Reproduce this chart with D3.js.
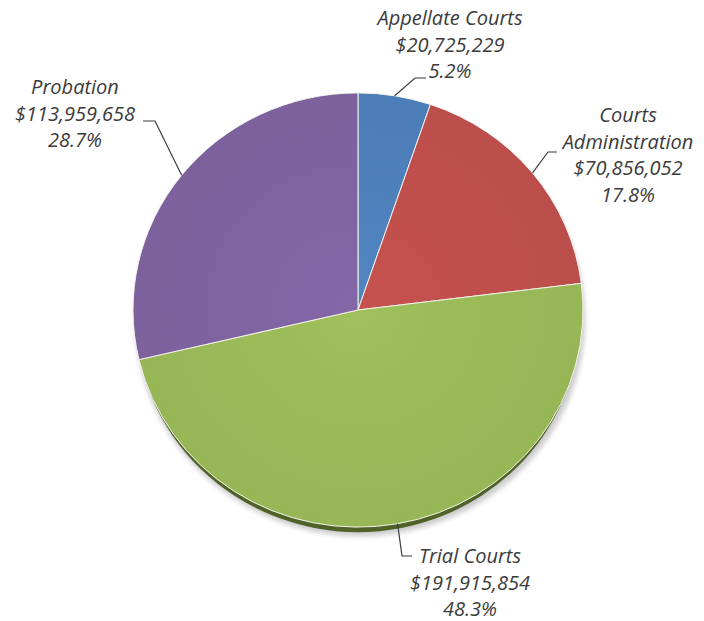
<!DOCTYPE html>
<html>
<head>
<meta charset="utf-8">
<title>Courts Budget</title>
<script src="https://d3js.org/d3.v7.min.js"></script>
<style>
  body { margin: 0; background: #FFFFFF; }
  svg { display: block; }
  .label { font-family: 'Open Sans', sans-serif; font-style: italic; font-size: 20px; fill: #3b3b3b; }
  .leader { fill: none; stroke: #3b3b3b; stroke-width: 1.2; }
</style>
</head>
<body>
<svg id="chart"></svg>
<script>
// data
const categories = ["Appellate Courts", "Courts Administration", "Trial Courts", "Probation"];
const amounts = [20725229, 70856052, 191915854, 113959658];
const colors = ["#4F81BD", "#C0504D", "#9BBB59", "#8064A2"];

const width = 704, height = 621;
const cx = 358, cy = 310, radius = 225, squash = 0.965;

// where each label block sits and how its leader line bends
const labelLayout = [
  { x: 450, y: 18, lines: ["Appellate Courts"], elbow: [415, 78], end: [426, 78] },
  { x: 628, y: 115, lines: ["Courts", "Administration"], elbow: [548, 152], end: [557, 152] },
  { x: 470, y: 556, lines: ["Trial Courts"], elbow: [402, 556], end: [412, 556] },
  { x: 75, y: 87, lines: ["Probation"], elbow: [155, 121], end: [143, 121] }
];
const lineHeight = 26.5;

const svg = d3.select("#chart").attr("width", width).attr("height", height);

const defs = svg.append("defs");
defs.append("filter").attr("id", "blur")
  .attr("x", "-10%").attr("y", "-10%").attr("width", "120%").attr("height", "120%")
  .append("feGaussianBlur").attr("stdDeviation", 2.5);

// light shading on each slice
colors.forEach((c, i) => {
  const g = defs.append("radialGradient").attr("id", "grad" + i)
    .attr("gradientUnits", "userSpaceOnUse")
    .attr("cx", 0).attr("cy", 0).attr("r", radius);
  g.append("stop").attr("offset", "0%").attr("stop-color", d3.color(c).brighter(0.08));
  g.append("stop").attr("offset", "100%").attr("stop-color", d3.color(c).darker(0.08));
});

const total = d3.sum(amounts);
const data = categories.map((name, i) => ({ name, value: amounts[i], i }));

const pie = d3.pie().sort(null).value(d => d.value);
const arcs = pie(data);
const arc = d3.arc().innerRadius(0).outerRadius(radius);

// soft shadow and dark rim under the pie
svg.append("ellipse")
  .attr("cx", cx + 2).attr("cy", cy + 9)
  .attr("rx", radius).attr("ry", radius * squash)
  .attr("fill", "#9a9a9a").attr("opacity", 0.5)
  .attr("filter", "url(#blur)");
svg.append("ellipse")
  .attr("cx", cx).attr("cy", cy + 5)
  .attr("rx", radius - 2).attr("ry", radius * squash)
  .attr("fill", "#4F6228");

const pieG = svg.append("g")
  .attr("transform", `translate(${cx},${cy}) scale(1,${squash})`);

pieG.selectAll("path.slice")
  .data(arcs)
  .join("path")
  .attr("class", "slice")
  .attr("d", arc)
  .attr("fill", d => `url(#grad${d.data.i})`)
  .attr("stroke", "#F4F4EC")
  .attr("stroke-width", 1);

// labels
const fmtMoney = d3.format("$,");
const fmtPct = d3.format(".1%");

arcs.forEach((a, i) => {
  const lay = labelLayout[i];
  const mid = (a.startAngle + a.endAngle) / 2;
  const edge = [cx + radius * Math.sin(mid), cy - radius * squash * Math.cos(mid)];

  svg.append("path")
    .attr("class", "leader")
    .attr("d", d3.line()([edge, lay.elbow, lay.end]));

  const lines = lay.lines.concat([fmtMoney(a.data.value), fmtPct(a.data.value / total)]);
  const t = svg.append("text")
    .attr("class", "label")
    .attr("text-anchor", "middle");
  lines.forEach((ln, k) => {
    t.append("tspan")
      .attr("x", lay.x)
      .attr("y", lay.y + k * lineHeight)
      .attr("dy", "0.35em")
      .text(ln);
  });
});
</script>
</body>
</html>
